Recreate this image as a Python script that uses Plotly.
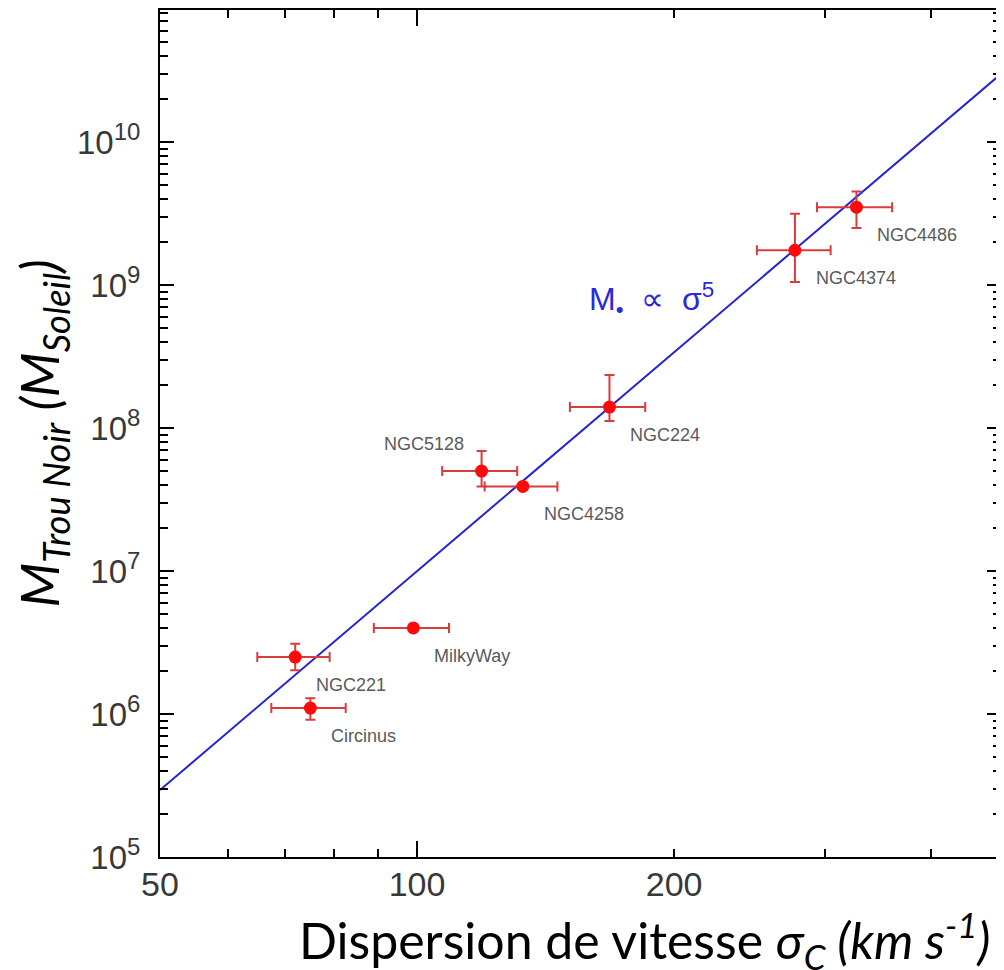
import math
import plotly.graph_objects as go

# ---- data ----
galaxies = ["NGC221", "Circinus", "MilkyWay", "NGC5128", "NGC4258", "NGC224", "NGC4374", "NGC4486"]
sigma = [72, 75, 99, 119, 133, 168, 277, 327]
sigma_err_plus = [7, 7.5, 10, 12, 13, 17, 28, 33]
sigma_err_minus = [7, 7.5, 10, 12, 13, 17, 27, 33]
mass = [2.5e6, 1.1e6, 4.0e6, 5.0e7, 3.9e7, 1.4e8, 1.75e9, 3.5e9]
mass_err_plus = [0.6e6, 0.19e6, 0, 1.9e7, 0, 0.95e8, 1.4e9, 1.0e9]
mass_err_minus = [0.48e6, 0.19e6, 0, 1.1e7, 0, 0.28e8, 0.7e9, 1.0e9]

# fitted relation M ∝ sigma^5 (end points read at the frame edges)
line_sigma = [50, 483]
line_mass = [2.94e5, 3.0e10]
relation_label = "M<sub>•</sub>\u00a0\u00a0∝\u00a0\u00a0σ<sup>5</sup>"
relation_label_pos = (188, 7.9e8)

x_title = "Dispersion de vitesse <i>σ<sub>C</sub> (km s<sup>-1</sup>)</i>"
y_title = "<i>M<sub>Trou Noir</sub> (M<sub>Soleil</sub>)</i>"

x_tickvals = [50, 60, 70, 80, 90, 100, 200, 300, 400]
x_ticktext = ["50", "", "", "", "", "100", "200", "", ""]
y_tickvals = [1e5, 1e6, 1e7, 1e8, 1e9, 1e10]
y_exponents = ["5", "6", "7", "8", "9", "10"]
y_ticktext = ["10<sup><span style='font-size:24px'>%s</span></sup>" % e for e in y_exponents]
y_minor = [m * 10 ** e for e in range(5, 11) for m in range(2, 10)]

X_RANGE = [math.log10(50), 2.6838]
Y_RANGE = [5, 10.923]

# label placement style: (xanchor, xshift, yshift)
label_style = {"NGC5128": ("right", -16, 27)}
default_label_style = ("left", 19, -28)

fig = go.Figure()

fig.add_trace(go.Scatter(
    x=line_sigma, y=line_mass, mode="lines",
    line=dict(color="#2424d0", width=2), showlegend=False, hoverinfo="skip"))

fig.add_trace(go.Scatter(
    x=sigma, y=mass, mode="markers",
    marker=dict(color="#ff0a0a", size=13),
    error_x=dict(type="data", array=sigma_err_plus, arrayminus=sigma_err_minus,
                 color="#d83c3c", thickness=2, width=5),
    error_y=dict(type="data", array=mass_err_plus, arrayminus=mass_err_minus,
                 color="#d83c3c", thickness=2, width=5),
    showlegend=False, text=galaxies))

# empty trace so the mirrored (top / right) axes get drawn
fig.add_trace(go.Scatter(x=[], y=[], xaxis="x2", yaxis="y2", showlegend=False))

for g, s, m in zip(galaxies, sigma, mass):
    anchor, xs, ys = label_style.get(g, default_label_style)
    fig.add_annotation(x=math.log10(s), y=math.log10(m), xref="x", yref="y", text=g,
                       showarrow=False, xanchor=anchor, yanchor="middle",
                       xshift=xs, yshift=ys,
                       font=dict(family="Liberation Sans", size=18, color="#5a5a5a"))

fig.add_annotation(x=math.log10(relation_label_pos[0]), y=math.log10(relation_label_pos[1]),
                   xref="x", yref="y", text=relation_label, showarrow=False,
                   font=dict(family="Liberation Sans", size=32, color="#2a2ad8"))

# x-axis title (set off to the right of the plot centre, as in the reference)
fig.add_annotation(x=0.163, y=-0.098, xref="paper", yref="paper", text=x_title,
                   showarrow=False, xanchor="left", yanchor="middle",
                   font=dict(family="Lato", size=50, color="black"))

tick_common = dict(ticks="inside", tickwidth=1.5, tickcolor="black",
                   showline=True, linecolor="black", linewidth=2,
                   showgrid=False, zeroline=False)

x_common = dict(type="log", range=X_RANGE, tickmode="array", tickvals=x_tickvals,
                ticklen=8,
                minor=dict(tickmode="array", tickvals=[100], ticks="inside", ticklen=16,
                           tickwidth=1.5, tickcolor="black", showgrid=False),
                **tick_common)
y_common = dict(type="log", range=Y_RANGE, tickmode="array", tickvals=y_tickvals,
                ticklen=14,
                minor=dict(tickmode="array", tickvals=y_minor, ticks="inside", ticklen=8,
                           tickwidth=1.5, tickcolor="black", showgrid=False),
                **tick_common)

fig.update_layout(
    width=1004, height=970,
    margin=dict(l=152, r=11, t=2, b=121),
    paper_bgcolor="white", plot_bgcolor="white",
    xaxis=dict(
        ticktext=x_ticktext,
        tickfont=dict(family="Liberation Sans", size=34, color="#383838"),
        ticklabelstandoff=-4,
        **x_common,
    ),
    yaxis=dict(
        ticktext=y_ticktext,
        tickfont=dict(family="Liberation Sans", size=33, color="#383838"),
        ticklabelstandoff=11,
        title=dict(text=y_title,
                   font=dict(family="Lato", size=52, color="black"), standoff=16),
        **y_common,
    ),
    xaxis2=dict(overlaying="x", side="top", anchor="y2", showticklabels=False, **x_common),
    yaxis2=dict(overlaying="y", side="right", anchor="x2", showticklabels=False, **y_common),
)

fig.write_html("out.html")
